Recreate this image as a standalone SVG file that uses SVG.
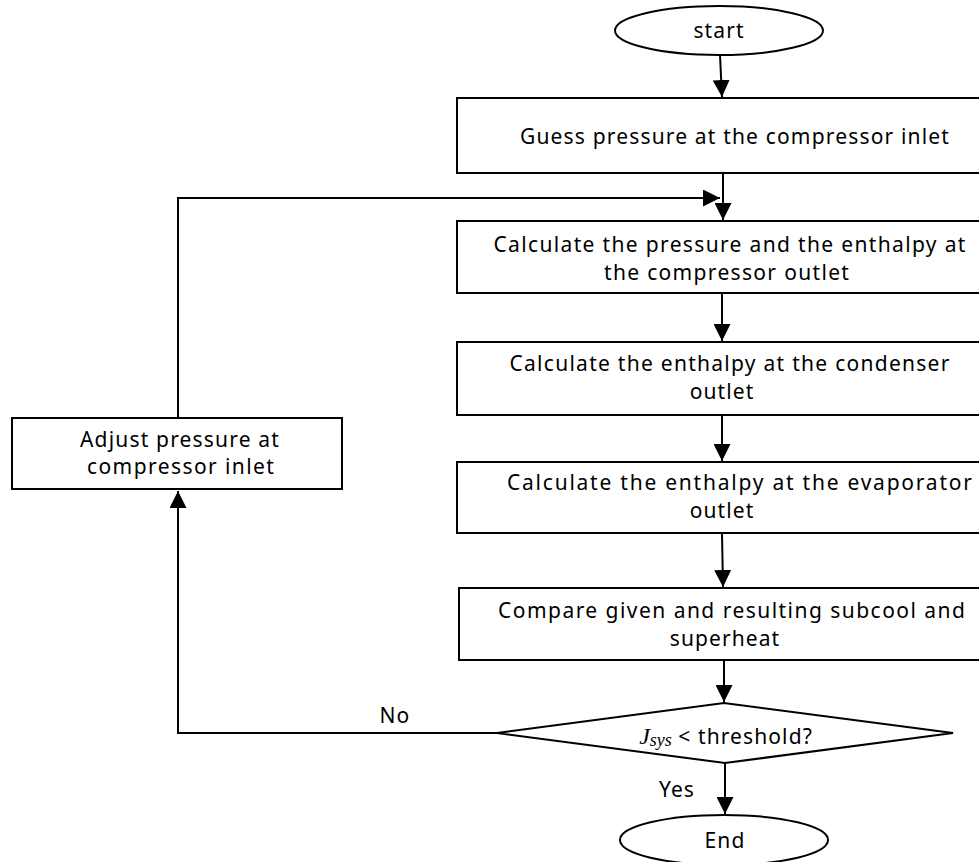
<svg xmlns="http://www.w3.org/2000/svg" width="979" height="862" viewBox="0 0 979 862">
  <style>
    .shape { fill: #ffffff; stroke: #000000; stroke-width: 2; }
    .line { fill: none; stroke: #000000; stroke-width: 2; }
    .label { font-family: "Noto Sans", "Open Sans", sans-serif; font-size: 21px; fill: #000000; text-anchor: middle; letter-spacing: 1.1px; }
    .math { font-family: "Liberation Serif", serif; font-style: italic; fill: #000000; letter-spacing: 0; }
  </style>
  <defs>
    <marker id="arrow" viewBox="0 0 10 10" refX="10" refY="5" markerWidth="8.5" markerHeight="8.5" markerUnits="strokeWidth" orient="auto">
      <path d="M0,0 L10,5 L0,10 Z" fill="#000000"/>
    </marker>
  </defs>

  <rect width="979" height="862" fill="#ffffff"/>

  <g id="connectors">
    <line class="line" x1="720" y1="55" x2="722" y2="97" marker-end="url(#arrow)"/>
    <line class="line" x1="723" y1="173" x2="723" y2="220" marker-end="url(#arrow)"/>
    <polyline class="line" points="178,418 178,198 720,198" marker-end="url(#arrow)"/>
    <line class="line" x1="722" y1="293" x2="722" y2="341" marker-end="url(#arrow)"/>
    <line class="line" x1="722" y1="415" x2="722" y2="461" marker-end="url(#arrow)"/>
    <line class="line" x1="722" y1="533" x2="723" y2="587" marker-end="url(#arrow)"/>
    <line class="line" x1="724" y1="660" x2="724" y2="702" marker-end="url(#arrow)"/>
    <line class="line" x1="725" y1="763" x2="725" y2="814" marker-end="url(#arrow)"/>
    <polyline class="line" points="497,733 178,733 178,491" marker-end="url(#arrow)"/>
    <text class="label" x="395" y="723">No</text>
    <text class="label" x="677" y="797">Yes</text>
  </g>

  <g id="start">
    <ellipse class="shape" cx="719" cy="30.5" rx="104" ry="24.5"/>
    <text class="label" x="719" y="38">start</text>
  </g>

  <g id="guess">
    <rect class="shape" x="457" y="98" width="533" height="75"/>
    <text class="label" x="735" y="144" textLength="430">Guess pressure at the compressor inlet</text>
  </g>

  <g id="calc-compressor">
    <rect class="shape" x="457" y="221" width="533" height="72"/>
    <text class="label" x="730" y="252" textLength="473">Calculate the pressure and the enthalpy at</text>
    <text class="label" x="727" y="280" textLength="246">the compressor outlet</text>
  </g>

  <g id="calc-condenser">
    <rect class="shape" x="457" y="342" width="533" height="73"/>
    <text class="label" x="730" y="371" textLength="441">Calculate the enthalpy at the condenser</text>
    <text class="label" x="722" y="399">outlet</text>
  </g>

  <g id="calc-evaporator">
    <rect class="shape" x="457" y="462" width="533" height="71"/>
    <text class="label" x="740" y="490" textLength="466">Calculate the enthalpy at the evaporator</text>
    <text class="label" x="722" y="518">outlet</text>
  </g>

  <g id="compare">
    <rect class="shape" x="459" y="588" width="531" height="72"/>
    <text class="label" x="732" y="618" textLength="468">Compare given and resulting subcool and</text>
    <text class="label" x="725" y="646">superheat</text>
  </g>

  <g id="adjust">
    <rect class="shape" x="12" y="418" width="330" height="71"/>
    <text class="label" x="180" y="447" textLength="200">Adjust pressure at</text>
    <text class="label" x="181" y="474" textLength="188">compressor inlet</text>
  </g>

  <g id="decision">
    <polygon class="shape" points="497,733 724,703 953,733 725,763"/>
    <text class="label" x="726" y="744"><tspan class="math" font-size="24">J</tspan><tspan class="math" font-size="18" dy="2">sys</tspan><tspan dy="-2"> &lt; threshold?</tspan></text>
  </g>

  <g id="end">
    <ellipse class="shape" cx="724" cy="840" rx="104" ry="25"/>
    <text class="label" x="725" y="848">End</text>
  </g>
</svg>
